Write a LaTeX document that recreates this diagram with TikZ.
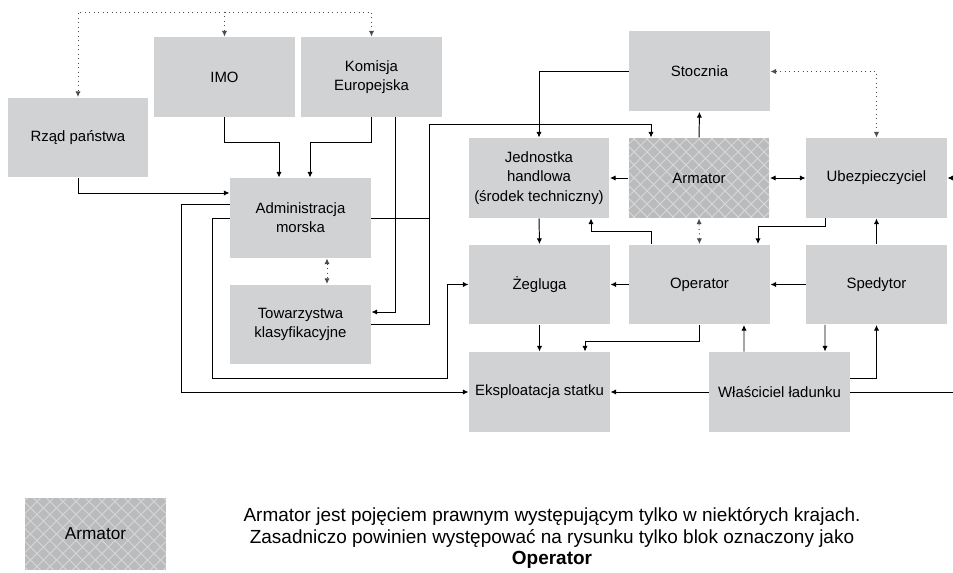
\documentclass[tikz,border=0pt]{standalone}
\usepackage{fontspec}
\setmainfont{Liberation Sans}
\usetikzlibrary{arrows.meta,positioning,calc}
\definecolor{boxgray}{HTML}{D1D2D4}
\definecolor{hatchgray}{HTML}{B9BBBD}
\definecolor{hatchline}{HTML}{D6D7D8}
\newcommand{\boxfont}{\fontsize{8.5pt}{11pt}\selectfont}

\begin{document}
\begin{tikzpicture}[x=0.02cm, y=-0.02cm,
    >={Latex[length=3.2pt,width=3pt]}, line width=0.55pt,
    box/.style={fill=boxgray, draw=none, minimum width=2.82cm, minimum height=1.6cm,
      inner sep=0pt, align=center, font=\boxfont},
    hatch/.style={box, fill=hatchgray, path picture={
      \foreach \k in {-182,-169,...,182} {
        \draw[hatchline, line width=0.6pt] ($(path picture bounding box.center)+(\k,0)+(-90,-90)$) -- ++(180,180);
        \draw[hatchline, line width=0.6pt] ($(path picture bounding box.center)+(\k,0)+(-90,90)$) -- ++(180,-180);
      }}},
    dot/.style={dotted, draw=black!70}]
  \useasboundingbox (0,0) rectangle (953,573);
  \clip (0,0) rectangle (953,573);
  %nodes
  \node[box] (rzad) at (78,137.5) {Rząd państwa};
  \node[box] (imo) at (224.5,77) {IMO};
  \node[box] (komisja) at (371.5,77) {Komisja\\Europejska};
  \node[box] (admin) at (300.5,218) {Administracja\\morska};
  \node[box] (tow) at (300.5,324.5) {Towarzystwa\\klasyfikacyjne};
  \node[box] (stocznia) at (699.5,71.5) {Stocznia};
  \node[box] (jednostka) at (539,178) {Jednostka\\handlowa\\(środek techniczny)};
  \node[hatch] (armator) at (699,178) {Armator};
  \node[box] (ubez) at (876.5,178) {Ubezpieczyciel};
  \node[box] (zegluga) at (539.5,284.5) {Żegluga};
  \node[box] (operator) at (699.5,284.5) {Operator};
  \node[box] (spedytor) at (876.5,284.5) {Spedytor};
  \node[box] (eksp) at (539.5,392) {Eksploatacja statku};
  \node[box] (wlasc) at (779.5,392) {Właściciel ładunku};
  \node[hatch, minimum height=1.44cm, font=\fontsize{9.8pt}{11pt}\selectfont] (legbox) at (95.5,534) {Armator};
  \node[align=center, font=\fontsize{10.8pt}{12.3pt}\selectfont] (note) at (552,538)
    {Armator jest pojęciem prawnym występującym tylko w niektórych krajach.\\
     Zasadniczo powinien występować na rysunku tylko blok oznaczony jako\\
     \textbf{Operator}};
  \coordinate (top) at (224.5,12);
  \coordinate (j) at (429,124);
  \coordinate (off) at (975,300);
  %edges
  \path [draw,dot,->] (top) -| (rzad.north);
  \path [draw,dot,->] (top) -- (imo.north);
  \path [draw,dot,->] (top) -| (komisja.north);
  \path [draw,->] (rzad.south) |- ($(admin.west)+(0,-25)$);
  \path [draw,->] (imo.south) -- ++(0,25) -| ($(admin.north)+(-21.5,0)$);
  \path [draw,->] (komisja.south) -- ++(0,25) -| ($(admin.north)+(9.5,0)$);
  \path [draw,->] ($(komisja.south)+(23.5,0)$) |- ($(tow.east)+(0,-12.5)$);
  \path [draw,dot,<->] ($(admin.south)+(26.5,0)$) -- ($(tow.north)+(26.5,0)$);
  \path [draw,->] (tow.east) -| (j) -| ($(armator.north)+(-48,0)$);
  \path [draw] (admin.east) -- (admin.east -| j);
  \path [draw,->] ($(admin.west)+(0,-14)$) -- ++(-48,0) |- (eksp.west);
  \path [draw,->] (admin.west) -- ++(-17,0) |- ($(eksp.west)+(-21,-14)$) |- (zegluga.west);
  \path [draw,->] (stocznia.west) -| (jednostka.north);
  \path [draw,->] (armator.north) -- (stocznia.south);
  \path [draw,dot,<->] (stocznia.east) -| (ubez.north);
  \path [draw,->] (armator.west) -- (jednostka.east);
  \path [draw,<->] (armator.east) -- (ubez.west);
  \path [draw,->] (jednostka.south) -- (zegluga.north);
  \path [draw,->] ($(operator.north)+(-48,0)$) -- ++(0,-13) -| ($(jednostka.south)+(52,0)$);
  \path [draw,dot,<->] (operator.north) -- (armator.south);
  \path [draw,->] ($(ubez.south)+(-51.5,0)$) -- ++(0,8) -| ($(operator.north)+(58.5,0)$);
  \path [draw,->] (spedytor.north) -- (ubez.south);
  \path [draw,->] (operator.west) -- (zegluga.east);
  \path [draw,->] (spedytor.west) -- (operator.east);
  \path [draw,->] (zegluga.south) -- (eksp.north);
  \path [draw,->] (operator.south) -- ++(0,17) -| ($(eksp.north)+(45.5,0)$);
  \path [draw,->] ($(wlasc.north)+(-35.5,0)$) -- ($(operator.south)+(44.5,0)$);
  \path [draw,->] ($(spedytor.south)+(-51.5,0)$) -- ($(wlasc.north)+(45.5,0)$);
  \path [draw,->] ($(wlasc.east)+(0,-14)$) -| (spedytor.south);
  \path [draw,->] (wlasc.west) -- (eksp.east);
  \path [draw,->] (wlasc.east) -| (off) |- (ubez.east);
\end{tikzpicture}
\end{document}
